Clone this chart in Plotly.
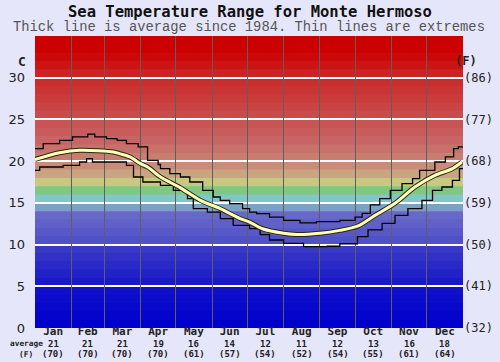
import plotly.graph_objects as go

# ---------------- data ----------------
months = ["Jan", "Feb", "Mar", "Apr", "May", "Jun", "Jul", "Aug", "Sep", "Oct", "Nov", "Dec"]
month_days = [31, 28, 31, 30, 31, 30, 31, 31, 30, 31, 30, 31]
avg_c_labels = ["21", "21", "21", "19", "16", "14", "12", "11", "12", "13", "16", "18"]
avg_f_labels = ["(70)", "(70)", "(70)", "(70)", "(61)", "(57)", "(54)", "(52)", "(54)", "(55)", "(61)", "(64)"]
c_ticks = [0, 5, 10, 15, 20, 25, 30]
f_ticks = ["(32)", "(41)", "(50)", "(59)", "(68)", "(77)", "(86)"]

# average sea temperature (day of year, deg C)
avg_day = [0, 21, 38, 67, 72, 81, 90, 96, 107, 124, 141, 158, 175, 183, 194, 212, 223,
           243, 260, 275, 290, 307, 324, 341, 356, 364]
avg_temp = [20.2, 21.0, 21.3, 21.1, 20.9, 20.5, 19.7, 19.3, 18.1, 16.8, 15.3, 14.3, 13.1, 12.7,
            11.9, 11.35, 11.2, 11.35, 11.7, 12.2, 13.5, 14.95, 16.9, 18.3, 19.1, 19.9]

# maximum extreme
max_day = [0, 7, 21, 32, 45, 51, 61, 70, 78, 88, 96, 105, 107, 115, 124, 132, 143, 152, 158,
           166, 177, 183, 189, 200, 212, 226, 240, 260, 273, 279, 286, 294, 303, 313, 322, 328,
           341, 350, 357, 361, 365]
max_temp = [21.5, 22.1, 22.5, 22.9, 23.25, 22.9, 22.7, 22.5, 22.1, 21.7, 20.1, 19.6, 19.1, 18.5,
            18.1, 17.5, 16.5, 15.7, 15.3, 14.9, 14.3, 13.9, 13.7, 13.3, 12.9, 12.6, 12.75, 12.9,
            13.3, 13.75, 14.75, 15.5, 16.5, 17.3, 17.9, 18.9, 19.9, 20.5, 21.5, 21.7, 21.7]

# minimum extreme
min_day = [0, 4, 24, 38, 44, 49, 72, 78, 84, 92, 107, 118, 130, 135, 147, 158, 169, 183, 192,
           200, 212, 229, 249, 260, 275, 284, 296, 307, 318, 330, 339, 347, 356, 362, 365]
min_temp = [18.9, 19.3, 19.5, 19.9, 20.3, 19.9, 19.9, 19.5, 18.1, 17.5, 17.1, 16.5, 15.5, 14.3,
            13.9, 13.1, 12.3, 11.9, 11.2, 10.55, 10.15, 9.75, 9.8, 10.1, 10.95, 11.75, 12.55,
            13.5, 14.3, 15.3, 16.5, 16.9, 17.7, 19.1, 19.1]

# ---------------- layout helpers ----------------
W, H = 500, 362
L, R, T, B = 35, 463, 36, 328
YMAX = 35

month_start = []
acc = 0
for d in month_days:
    month_start.append(acc)
    acc += d
month_mid = [s + d / 2 for s, d in zip(month_start, month_days)]


def band_color(k):
    # colour of the band from k to k+1 deg C
    if k <= 14:
        if k == 14:
            return "rgb(125,160,200)"
        if k < 5:
            v = int(4 * k)
        elif k < 10:
            v = int(25 + 8 * (k - 5))
        else:
            v = int(80 + 8 * (k - 10))
        b = 204 if k < 5 else 200
        return f"rgb({v},{v},{b})"
    table = {
        15: (128, 200, 200), 16: (128, 200, 128), 17: (200, 200, 128), 18: (200, 165, 128),
        19: (200, 140, 120), 20: (200, 125, 112), 21: (200, 112, 105), 22: (200, 100, 100),
        23: (200, 92, 92), 24: (200, 84, 84), 25: (202, 75, 75), 26: (202, 68, 68),
        27: (202, 60, 60), 28: (202, 52, 52), 29: (203, 44, 44), 30: (204, 34, 34),
        31: (204, 20, 20), 32: (204, 8, 8)
    }
    c = table.get(k, (204, 0, 0))
    return f"rgb({c[0]},{c[1]},{c[2]})"


shapes = []
for k in range(YMAX):
    top = k + 1.08 if k < YMAX - 1 else k + 1
    shapes.append(dict(type="rect", xref="paper", yref="y", x0=0, x1=1, y0=k, y1=top,
                       fillcolor=band_color(k), line=dict(width=0), layer="below"))

fig = go.Figure()

fig.add_trace(go.Scatter(x=max_day, y=max_temp, mode="lines", line=dict(color="black", width=1.3, shape="hv"),
                         hoverinfo="skip", showlegend=False))
fig.add_trace(go.Scatter(x=min_day, y=min_temp, mode="lines", line=dict(color="black", width=1.3, shape="hv"),
                         hoverinfo="skip", showlegend=False))
fig.add_trace(go.Scatter(x=avg_day, y=avg_temp, mode="lines",
                         line=dict(color="rgb(40,40,20)", width=5, shape="spline", smoothing=0.8),
                         hoverinfo="skip", showlegend=False))
fig.add_trace(go.Scatter(x=avg_day, y=avg_temp, mode="lines",
                         line=dict(color="rgb(255,255,185)", width=3, shape="spline", smoothing=0.8),
                         hoverinfo="skip", showlegend=False))
# invisible traces that activate the gridline axis and the right-hand axis
fig.add_trace(go.Scatter(x=[0], y=[0], xaxis="x2", mode="markers", marker=dict(opacity=0),
                         hoverinfo="skip", showlegend=False))
fig.add_trace(go.Scatter(x=[0], y=[0], yaxis="y2", mode="markers", marker=dict(opacity=0),
                         hoverinfo="skip", showlegend=False))

mono = "DejaVu Sans Mono"
small = dict(family=mono, size=9, color="#222")
tiny = dict(family=mono, size=7.8, color="#222")

annotations = []
# rows under the months
for mid, c, f in zip(month_mid, avg_c_labels, avg_f_labels):
    annotations.append(dict(x=mid, xref="x", y=0, yref="paper", yanchor="middle", yshift=-(344 - B),
                            text=f"<b>{c}</b>", showarrow=False, font=small, borderpad=0))
    annotations.append(dict(x=mid, xref="x", y=0, yref="paper", yanchor="middle", yshift=-(354 - B),
                            text=f"<b>{f}</b>", showarrow=False, font=small, borderpad=0))
annotations.append(dict(x=(44 - L) / (R - L), xref="paper", xanchor="right", y=0, yref="paper",
                        yanchor="middle", yshift=-(343 - B), text="<b>average</b>", showarrow=False,
                        font=tiny, borderpad=0))
annotations.append(dict(x=(18 - L) / (R - L), xref="paper", y=0, yref="paper", yanchor="middle",
                        yshift=-(354 - B), text="<b>(F)</b>", showarrow=False, font=tiny, borderpad=0))
annotations.append(dict(x=(16 - L) / (R - L), xref="paper", y=(B - 61) / (B - T), yref="paper",
                        yanchor="middle", text="<b>C</b>", showarrow=False,
                        font=dict(family=mono, size=13, color="#222")))
annotations.append(dict(x=(479 - L) / (R - L), xref="paper", y=(B - 61) / (B - T), yref="paper",
                        yanchor="middle", text="<b>(F)</b>", showarrow=False,
                        font=dict(family=mono, size=12, color="#222")))
annotations.append(dict(x=0.5, xref="paper", y=(B - 27.5) / (B - T), yref="paper", yanchor="middle",
                        text="Thick line is average since 1984. Thin lines are extremes", showarrow=False,
                        font=dict(family="Liberation Mono", size=13.8, color="#555")))

fig.update_layout(
    width=W, height=H,
    margin=dict(l=L, r=W - R, t=T, b=H - B, pad=0, autoexpand=False),
    paper_bgcolor="rgb(230,230,250)",
    plot_bgcolor="rgb(120,120,200)",
    title=dict(text="<b>Sea Temperature Range for Monte Hermoso</b>", x=0.5, xanchor="center",
               y=1 - 12 / H, yanchor="middle", font=dict(family=mono, size=15.5, color="#111"),
               automargin=False),
    shapes=shapes,
    annotations=annotations,
    xaxis=dict(range=[0, 365], tickvals=month_mid, ticktext=[f"<b>{m}</b>" for m in months],
               showgrid=False, zeroline=False, ticks="", ticklen=0, showline=False, automargin=False,
               ticklabelstandoff=-5,
               tickfont=dict(family=mono, size=11, color="#222"), fixedrange=True),
    xaxis2=dict(range=[0, 365], overlaying="x", tickvals=month_start[1:], showgrid=True,
                gridcolor="rgb(95,95,95)", gridwidth=1, showticklabels=False, zeroline=False,
                ticks="", fixedrange=True, automargin=False),
    yaxis=dict(range=[0, YMAX], tickvals=c_ticks, ticktext=[str(v) for v in c_ticks],
               showgrid=True, gridcolor="white", gridwidth=2, zeroline=False, ticks="", automargin=False,
               ticklabelstandoff=9,
               tickfont=dict(family="DejaVu Sans", size=13, color="#222"), fixedrange=True),
    yaxis2=dict(range=[0, YMAX], overlaying="y", side="right", tickvals=c_ticks, ticktext=f_ticks,
                showgrid=False, zeroline=False, ticks="", automargin=False,
                tickfont=dict(family=mono, size=12, color="#222"), fixedrange=True),
)

fig.write_html("out.html", config={"displayModeBar": False},
               post_script="document.body.style.margin='0';")
